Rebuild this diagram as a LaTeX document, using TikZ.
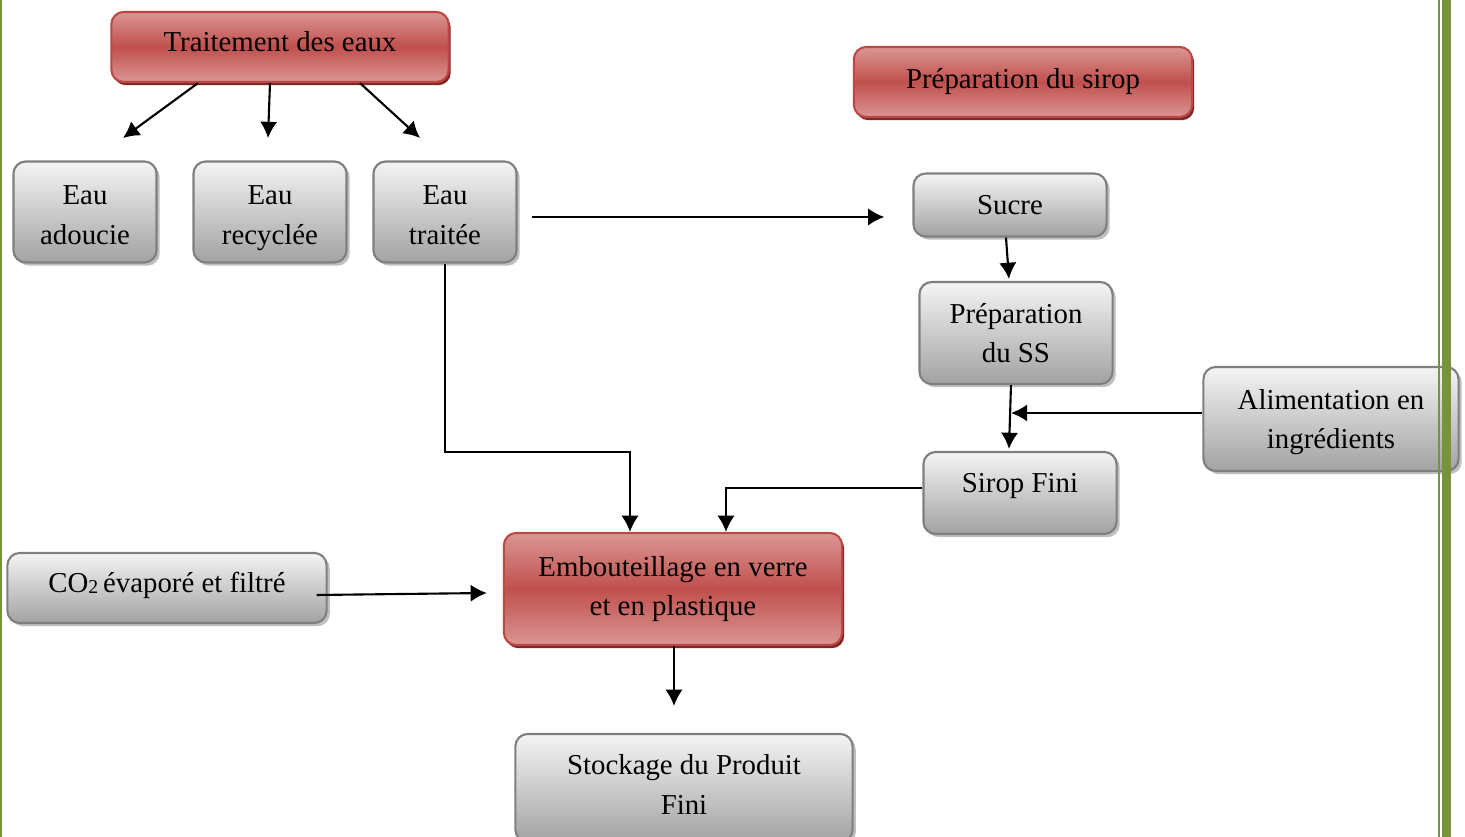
\documentclass[tikz,border=0pt]{standalone}
\usepackage{fontspec}
\setmainfont{Liberation Serif}
\usepackage{tikz}
\usepackage{xcolor}
\usetikzlibrary{calc,shadows,arrows.meta}
\definecolor{bordergreen}{HTML}{77933C}
\definecolor{redtop}{HTML}{DA9694}
\definecolor{redmid}{HTML}{C0504D}
\definecolor{redline}{HTML}{BC4845}
\definecolor{redshade}{HTML}{7D2725}
\definecolor{graytop}{HTML}{F4F4F4}
\definecolor{graybot}{HTML}{A2A2A2}
\definecolor{grayline}{HTML}{7F7F7F}
\tikzset{>={Latex[length=4.6pt,width=4.9pt]}}
\tikzset{
  box/.style={rectangle, rounded corners=3.5pt, inner sep=0pt, align=center,
    line width=0.6pt, font=\fontsize{8.2pt}{11.1pt}\selectfont},
  graybox/.style={box, draw=grayline, top color=graytop, bottom color=graybot,
    drop shadow={shadow xshift=0.9pt, shadow yshift=-0.9pt, fill=gray!50, opacity=1}},
  redbox/.style={box, draw=redline, top color=redtop, bottom color=redtop, middle color=redmid,
    drop shadow={shadow xshift=0.6pt, shadow yshift=-0.9pt, fill=redshade, opacity=1}},
}
\newcommand{\topstrut}[1]{\rule{0pt}{#1}}

\begin{document}
\begin{tikzpicture}[x=0.01cm, y=-0.01cm, line width=0.6pt]
    \useasboundingbox (0,0) rectangle (1465,837);
    \clip (0,0) rectangle (1465,837);
    % water treatment
    \node[redbox, minimum width=3.37cm, minimum height=0.70cm, text depth=0.1cm] (traitement) at (280,47) {Traitement des eaux};
    \node[graybox, minimum width=1.43cm, minimum height=1.01cm, text depth=0pt] (adoucie) at (85,212) {\topstrut{0.25cm}Eau\\adoucie};
    \node[graybox, minimum width=1.53cm, minimum height=1.01cm, text depth=0pt] (recyclee) at (270,212) {\topstrut{0.25cm}Eau\\recyclée};
    \node[graybox, minimum width=1.43cm, minimum height=1.01cm, text depth=0pt] (traitee) at (445,212) {\topstrut{0.25cm}Eau\\traitée};
    \coordinate (ad) at (123,138);
    \coordinate (re) at (268,138);
    \coordinate (tr) at (420,138);
    \draw[->] ($(traitement.south)+(-82,0)$) -- (ad);
    \draw[->] ($(traitement.south)+(-10,0)$) -- (re);
    \draw[->] ($(traitement.south)+(80,0)$) -- (tr);
    % syrup line
    \node[redbox, minimum width=3.38cm, minimum height=0.70cm] (sirop) at (1023,82) {Préparation du sirop};
    \node[graybox, minimum width=1.93cm, minimum height=0.63cm] (sucre) at (1010,205) {Sucre};
    \node[graybox, minimum width=1.93cm, minimum height=1.02cm] (prepss) at (1016,333) {Préparation\\du SS};
    \node[graybox, minimum width=2.55cm, minimum height=1.04cm] (alim) at (1331,419) {\topstrut{0.26cm}Alimentation en\\ingrédients};
    \node[graybox, minimum width=1.93cm, minimum height=0.82cm, text depth=0.2cm] (siropfini) at (1020,493) {Sirop Fini};
    \coordinate (join) at (1011,413);
    \draw[->] ($(traitee.east)+(14,5)$) -- ($(sucre.west)+(-28,12)$);
    \draw[->] ($(sucre.south)+(-4,0)$) -- ($(prepss.north)+(-7,-2)$);
    \draw[->] ($(prepss.south)+(-5,0)$) -- ($(siropfini.north)+(-11,-2)$);
    \draw[->] ($(alim.west)+(0,-6)$) -- (join);
    % bottling and storage
    \node[redbox, minimum width=3.38cm, minimum height=1.12cm] (embout) at (673,589) {Embouteillage en verre\\et en plastique};
    \node[graybox, minimum width=3.19cm, minimum height=0.70cm, text depth=0.12cm] (cotwo) at (167,588)
        {CO\raisebox{-0.4pt}{\fontsize{5.6pt}{6pt}\selectfont 2}\,évaporé et filtré};
    \node[graybox, minimum width=3.37cm, minimum height=1.08cm] (stockage) at (684,788) {Stockage du Produit\\Fini\rule[-0.07cm]{0pt}{0pt}};
    \draw[->] (traitee.south) -- ++(0,188) -| ($(embout.north)+(-43,0)$);
    \draw[->] ($(siropfini.west)+(0,-5)$) -| ($(embout.north)+(53,0)$);
    \draw[->] ($(cotwo.east)+(-11,7)$) -- ($(embout.west)+(-16,4)$);
    \draw[->] ($(embout.south)+(1,0)$) -- ($(stockage.north)+(-10,-27)$);
    % page border
    \fill[bordergreen] (0,0) rectangle (2,837);
    \fill[bordergreen] (1438,0) rectangle (1440,837);
    \fill[bordergreen] (1442,0) rectangle (1451,837);
\end{tikzpicture}
\end{document}
